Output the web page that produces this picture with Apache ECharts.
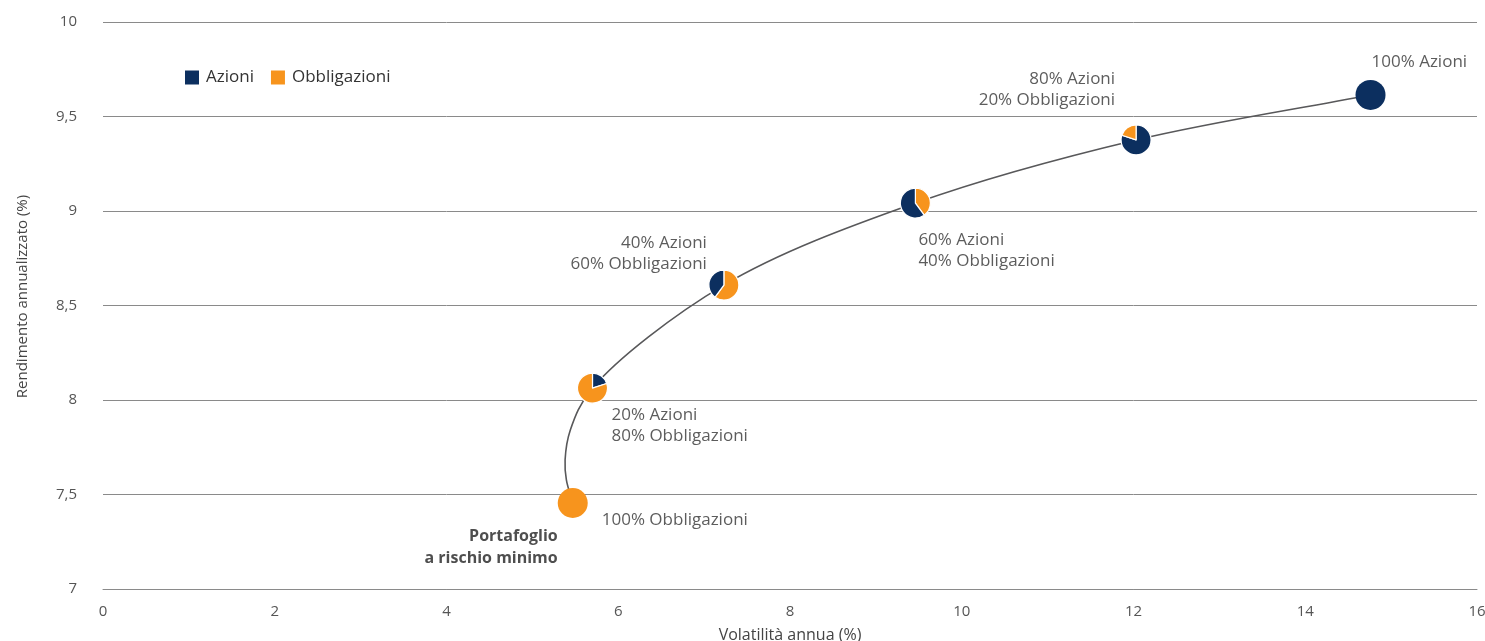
<!DOCTYPE html>
<html>
<head>
<meta charset="utf-8">
<script src="https://cdn.jsdelivr.net/npm/echarts@6/dist/echarts.min.js"></script>
<style>html,body{margin:0;padding:0;background:#fff}#c{width:1485px;height:641px}</style>
</head>
<body>
<div id="c"></div>
<script>
// ---- data ----
const volatility = [5.47, 5.70, 7.23, 9.46, 12.03, 14.76];
const returns    = [7.455, 8.063, 8.608, 9.042, 9.376, 9.614];
const azioniPct  = [0, 20, 40, 60, 80, 100];
const obbligPct  = [100, 80, 60, 40, 20, 0];
const pointLabels = [
  '100% Obbligazioni',
  '20% Azioni\n80% Obbligazioni',
  '40% Azioni\n60% Obbligazioni',
  '60% Azioni\n40% Obbligazioni',
  '80% Azioni\n20% Obbligazioni',
  '100% Azioni'
];
const minRiskLabel = 'Portafoglio\na rischio minimo';
// efficient frontier curve
const frontierVol = [5.47, 5.396, 5.381, 5.442, 5.70, 7.23, 9.46, 12.03, 14.76];
const frontierRet = [7.455, 7.577, 7.683, 7.841, 8.063, 8.608, 9.042, 9.376, 9.614];
const xTicks = [0, 16, 2];
const yTicks = [7, 10, 0.5];
const seriesNames = ['Azioni', 'Obbligazioni'];

// ---- styles ----
const NAVY = '#0c2f5f', ORANGE = '#f7941d';
const FONT = '"Open Sans", "Noto Sans", sans-serif';
const labelLayout = [
  {offset: [29, 17], align: 'left'},
  {offset: [19, 38], align: 'left'},
  {offset: [-17, -31], align: 'right'},
  {offset: [3, 48], align: 'left'},
  {offset: [-21, -50], align: 'right'},
  {offset: [1, -33], align: 'left'}
];
const azioniFirst = [true, true, false, false, true, true];

const chart = echarts.init(document.getElementById('c'));
const labelData = volatility.map((v, i) => ({
  value: [v, returns[i]],
  label: {
    formatter: pointLabels[i],
    offset: labelLayout[i].offset,
    align: labelLayout[i].align
  }
}));
labelData.push({
  value: [volatility[0], returns[0]],
  label: {formatter: minRiskLabel, offset: [-15, 44], align: 'right',
    fontWeight: 'bold', fontSize: 16, lineHeight: 22, color: '#222'}
});

// centripetal Catmull-Rom through the frontier points (pixel coords from the axes)
function frontierPath(pts) {
  const n = pts.length;
  const P = i => {
    if (i < 0) return [2 * pts[0][0] - pts[1][0], 2 * pts[0][1] - pts[1][1]];
    if (i >= n) return [2 * pts[n - 1][0] - pts[n - 2][0], 2 * pts[n - 1][1] - pts[n - 2][1]];
    return pts[i];
  };
  const dist = (a, b) => Math.pow(Math.hypot(a[0] - b[0], a[1] - b[1]), 0.5) || 1e-6;
  let d = 'M' + pts[0][0] + ',' + pts[0][1];
  for (let i = 0; i < n - 1; i++) {
    const p0 = P(i - 1), p1 = P(i), p2 = P(i + 1), p3 = P(i + 2);
    const d1 = dist(p0, p1), d2 = dist(p1, p2), d3 = dist(p2, p3);
    const b1 = [0, 1].map(k => (d1 * d1 * p2[k] - d2 * d2 * p0[k] + (2 * d1 * d1 + 3 * d1 * d2 + d2 * d2) * p1[k]) / (3 * d1 * (d1 + d2)));
    const b2 = [0, 1].map(k => (d3 * d3 * p1[k] - d2 * d2 * p3[k] + (2 * d3 * d3 + 3 * d3 * d2 + d2 * d2) * p2[k]) / (3 * d3 * (d3 + d2)));
    d += ' C' + b1[0] + ',' + b1[1] + ' ' + b2[0] + ',' + b2[1] + ' ' + p2[0] + ',' + p2[1];
  }
  return d;
}

const base = {
  animation: false,
  textStyle: {fontFamily: FONT},
  color: [NAVY, ORANGE],
  grid: {left: 103, right: 8, top: 22, bottom: 52, containLabel: false, outerBoundsMode: 'none'},
  legend: {
    left: 180, top: 64, itemWidth: 14, itemHeight: 14, itemGap: 17,
    icon: 'rect', data: seriesNames,
    itemStyle: {borderWidth: 0},
    textStyle: {fontSize: 17, color: '#333', fontFamily: FONT, padding: [0, 0, 0, 2]}
  },
  xAxis: {
    type: 'value', min: xTicks[0], max: xTicks[1], interval: xTicks[2],
    name: 'Volatilità annua (%)', nameLocation: 'middle', nameGap: 38,
    nameTextStyle: {fontSize: 16, color: '#444'},
    axisLine: {show: true, lineStyle: {color: '#8a8a8a'}},
    axisTick: {show: false},
    axisLabel: {fontSize: 15, color: '#555', margin: 15},
    splitLine: {show: false}
  },
  yAxis: {
    type: 'value', min: yTicks[0], max: yTicks[1], interval: yTicks[2],
    name: 'Rendimento annualizzato (%)', nameLocation: 'middle', nameGap: 73,
    nameTextStyle: {fontSize: 15, color: '#444', padding: [0, 0, 0, 18]},
    axisLine: {show: false}, axisTick: {show: false},
    axisLabel: {fontSize: 15, color: '#555', margin: 26,
      formatter: v => String(v).replace('.', ',')},
    splitLine: {show: true, lineStyle: {color: '#8a8a8a', width: 1}}
  },
  series: [
    {
      type: 'custom', name: 'frontier', silent: true, z: 1,
      data: [[frontierVol[0], frontierRet[0]]],
      renderItem: (params, api) => {
        const pts = frontierVol.map((v, i) => api.coord([v, frontierRet[i]]));
        return {
          type: 'path',
          shape: {pathData: frontierPath(pts)},
          style: {stroke: '#58585a', lineWidth: 1.6, fill: null}
        };
      }
    },
    {
      type: 'scatter', name: 'labels', silent: true, symbolSize: 0,
      data: labelData,
      label: {show: true, position: 'inside', verticalAlign: 'middle',
        fontSize: 17, lineHeight: 21, color: '#333', fontFamily: FONT},
      z: 5
    }
  ]
};
chart.setOption(base);

const pies = volatility.map((v, i) => {
  const c = chart.convertToPixel({gridIndex: 0}, [v, returns[i]]);
  let items = [
    {name: seriesNames[0], value: azioniPct[i], itemStyle: {color: NAVY}},
    {name: seriesNames[1], value: obbligPct[i], itemStyle: {color: ORANGE}}
  ];
  if (!azioniFirst[i]) items.reverse();
  items = items.filter(d => d.value > 0);
  return {
    type: 'pie', name: 'pie' + i, center: c, radius: [0, 15],
    startAngle: 90, clockwise: true, silent: true,
    label: {show: false}, labelLine: {show: false},
    itemStyle: {borderColor: '#fff', borderWidth: items.length > 1 ? 1.2 : 0},
    emphasis: {disabled: true},
    data: items, z: 10
  };
});
chart.setOption({series: base.series.concat(pies)});
</script>
</body>
</html>
